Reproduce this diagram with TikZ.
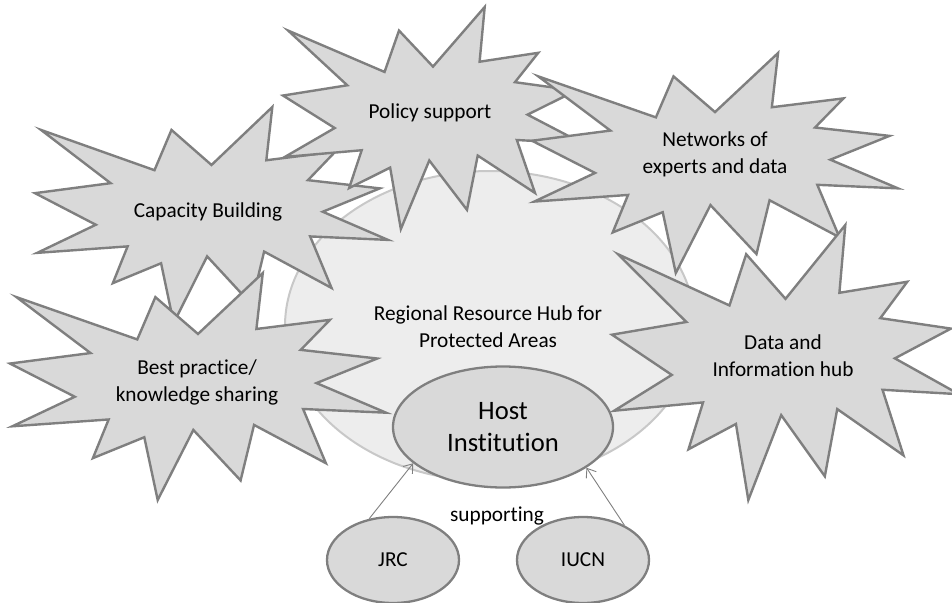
\documentclass[tikz,border=0pt]{standalone}
\usepackage{fontspec}
\setmainfont{Carlito}[Ligatures=NoCommon]
\usetikzlibrary{shapes.geometric,arrows.meta}
\definecolor{starg}{HTML}{D9D9D9}
\definecolor{edgeg}{HTML}{7F7F7F}
\definecolor{hubfill}{HTML}{EDEDED}
\definecolor{hubedge}{HTML}{C8C8C8}
\tikzset{
  starfill/.style={fill=starg, draw=edgeg, line width=2.4pt},
  lbl/.style={align=center, font=\fontsize{21.3}{27}\selectfont, inner sep=0pt},
  oval/.style={ellipse, fill=starg, draw=edgeg, line width=2.3pt, inner sep=0pt},
  arr/.style={draw=edgeg, line width=0.9pt, -{Straight Barb[length=8pt,width=12pt]}},
}
\newcommand\explosion[4]{%
  \begin{scope}[shift={(#1,-#2)}, xscale=#3/216, yscale=-#4/216]
    \draw[starfill] (108,58) -- (145.22,0) -- (141.55,53.25) -- (183.80,44.57)
      -- (167.02,73.15) -- (210.97,81.37) -- (176.07,104.75) -- (216,132.90)
      -- (168.37,129.42) -- (181.45,180.95) -- (140.20,144.57) -- (132.47,197.37)
      -- (105.32,149.35) -- (84.85,216) -- (77.15,156.27) -- (47.62,176.17)
      -- (56.67,139.37) -- (1.35,145.87) -- (37.22,117.75) -- (0,86.15)
      -- (46.27,76.17) -- (3.70,22.95) -- (73.12,63.20) -- (83.52,22.95) -- cycle;
  \end{scope}}
\begin{document}
\begin{tikzpicture}[x=1pt,y=1pt]
\useasboundingbox (0,0) rectangle (952,-602);
% big hub ellipse
\node[ellipse, minimum width=410, minimum height=310, fill=hubfill, draw=hubedge, line width=2pt] (hub) at (490,-326) {};
% explosions
\explosion{35}{107}{353}{216}
\explosion{283}{7}{300}{222}
\explosion{532}{53}{366}{220}
\explosion{10}{273}{376}{227}
\explosion{612}{225}{347}{275}
\node[lbl] (cap) at (208,-212) {Capacity Building};
\node[lbl] (pol) at (430,-113) {Policy support};
\node[lbl] (net) at (715,-154) {Networks of\\experts and data};
\node[lbl] (best) at (197,-382) {Best practice/\\knowledge sharing};
\node[lbl] (data) at (783,-356) {Data and\\Information hub};
\node[lbl] (hubtext) at (488,-327) {Regional Resource Hub for\\Protected Areas};
% host and partners
\node[oval, minimum width=220, minimum height=121, align=center, font=\fontsize{26.6}{32}\selectfont] (host) at (503,-427) {Host\\Institution};
\node[oval, minimum width=132, minimum height=86, font=\fontsize{21.3}{27}\selectfont] (jrc) at (393,-560) {JRC};
\node[oval, minimum width=132, minimum height=86, font=\fontsize{21.3}{27}\selectfont] (iucn) at (583,-560) {IUCN};
\node[lbl] (sup) at (497,-516) {supporting};
\draw[arr] (jrc.120) -- (host.202);
\draw[arr] (iucn.40) -- (host.-26);
\end{tikzpicture}
\end{document}
